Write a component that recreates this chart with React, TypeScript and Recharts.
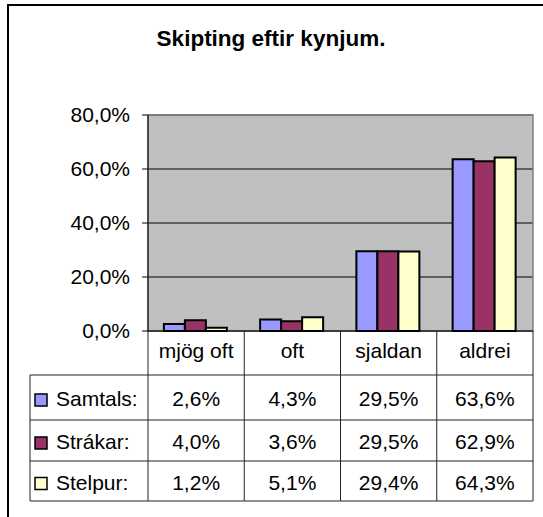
import { BarChart, Bar, XAxis, YAxis, CartesianGrid, ReferenceArea } from 'recharts';

const categories = ['mjög oft', 'oft', 'sjaldan', 'aldrei'];
const seriesNames = ['Samtals:', 'Strákar:', 'Stelpur:'];
const samtals = [2.6, 4.3, 29.5, 63.6];
const strakar = [4.0, 3.6, 29.5, 62.9];
const stelpur = [1.2, 5.1, 29.4, 64.3];
const yTicks = [0, 20, 40, 60, 80];

const colors = ['#9999FF', '#993366', '#FFFFCC'];
const seriesKeys = ['samtals', 'strakar', 'stelpur'];
const seriesValues = [samtals, strakar, stelpur];

const data = categories.map((cat, i) => ({
  cat,
  samtals: samtals[i],
  strakar: strakar[i],
  stelpur: stelpur[i],
}));

// layout (px)
const W = 543;
const H = 517;
const MARGIN = { top: 115, right: 10, left: 68, bottom: 0 };
const Y_W = 80;
const X_H = 186;
const PLOT_L = MARGIN.left + Y_W;
const PLOT_R = W - MARGIN.right;
const BAND = (PLOT_R - PLOT_L) / categories.length;
const TABLE_L = 30;
const ROW_LINES = [375, 420, 461, 501];
const FONT = '"Liberation Sans", Arial, sans-serif';
const FS = 21;
const LINE = '#222';

const pct = (v: number) => `${v.toFixed(1).replace('.', ',')}%`;

function TableTick(props: any) {
  const { x, y, payload } = props;
  const idx = categories.indexOf(payload.value);
  const left = x - BAND / 2;
  const right = x + BAND / 2;
  const bottom = ROW_LINES[ROW_LINES.length - 1];
  return (
    <g fontFamily={FONT} fontSize={FS} fill="#000">
      {idx === 0 && <line x1={left} y1={y} x2={left} y2={bottom} stroke={LINE} />}
      <line x1={right} y1={y} x2={right} y2={bottom} stroke={LINE} />
      {ROW_LINES.map((r) => (
        <line key={r} x1={left} x2={right} y1={r} y2={r} stroke={LINE} />
      ))}
      <text x={x} y={358} textAnchor="middle">{payload.value}</text>
      {seriesValues.map((vals, k) => (
        <text key={k} x={x} y={(ROW_LINES[k] + ROW_LINES[k + 1]) / 2 + 8.5} textAnchor="middle">
          {pct(vals[idx])}
        </text>
      ))}
      {idx === 0 && (
        <g>
          <line x1={TABLE_L} y1={ROW_LINES[0]} x2={TABLE_L} y2={bottom} stroke={LINE} />
          {ROW_LINES.map((r) => (
            <line key={r} x1={TABLE_L} x2={left} y1={r} y2={r} stroke={LINE} />
          ))}
          {seriesNames.map((name, k) => {
            const base = (ROW_LINES[k] + ROW_LINES[k + 1]) / 2 + 8.5;
            return (
              <g key={name}>
                <rect x={35} y={base - 12} width={12} height={12} fill={colors[k]} stroke="#000" strokeWidth={1.5} />
                <text x={56} y={base} textAnchor="start">{name}</text>
              </g>
            );
          })}
        </g>
      )}
    </g>
  );
}

export default function App() {
  return (
    <div style={{ position: 'absolute', left: 0, top: 0, width: W, height: H, overflow: 'hidden', background: '#fff' }}>
      <div
        style={{
          position: 'absolute',
          left: 7,
          top: 4,
          width: 600,
          height: 600,
          border: '2px solid #000',
          boxSizing: 'border-box',
        }}
      />
      <div
        style={{
          position: 'absolute',
          left: 0,
          top: 28,
          width: 542,
          textAlign: 'center',
          fontFamily: FONT,
          fontWeight: 'bold',
          fontSize: 22.5,
          lineHeight: '22px',
          color: '#000',
        }}
      >
        Skipting eftir kynjum.
      </div>
      <div style={{ position: 'absolute', left: 0, top: 0 }}>
        <BarChart
          width={W}
          height={H}
          data={data}
          margin={MARGIN}
          barCategoryGap="16.5%"
          barGap={0}
        >
          <CartesianGrid vertical={false} stroke="#000" fill="#C0C0C0" />
          <ReferenceArea y1={0} y2={80} fill="none" stroke="#808080" strokeWidth={1.5} />
          <XAxis
            dataKey="cat"
            height={X_H}
            interval={0}
            tickLine={false}
            tickSize={0}
            tickMargin={0}
            axisLine={{ stroke: '#000' }}
            tick={<TableTick />}
          />
          <YAxis
            width={Y_W}
            domain={[0, 80]}
            ticks={yTicks}
            interval={0}
            tickSize={6}
            tickMargin={12}
            tickLine={{ stroke: '#000' }}
            axisLine={{ stroke: '#000' }}
            tickFormatter={(v: number) => pct(v)}
            tick={{ fontSize: FS, fontFamily: FONT, fill: '#000' }}
          />
          {seriesKeys.map((key, k) => (
            <Bar
              key={key}
              dataKey={key}
              name={seriesNames[k]}
              fill={colors[k]}
              stroke="#000"
              strokeWidth={2}
              isAnimationActive={false}
            />
          ))}
        </BarChart>
      </div>
    </div>
  );
}
